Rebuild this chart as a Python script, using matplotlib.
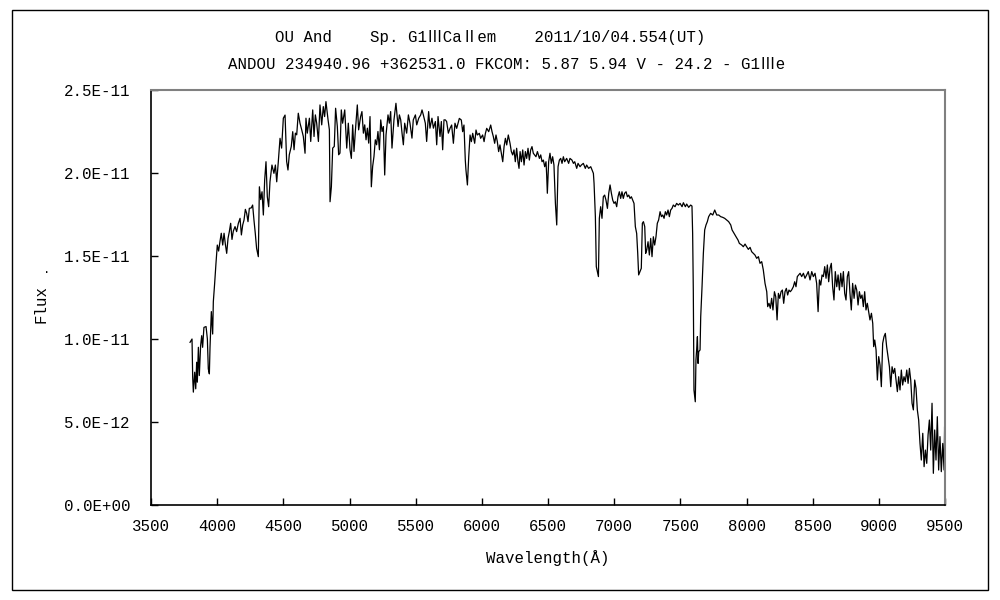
import matplotlib
matplotlib.use('Agg')
import matplotlib.pyplot as plt
from matplotlib.patches import Rectangle
from matplotlib.ticker import FuncFormatter, MultipleLocator

# the original uses a monospaced gothic font; Liberation Mono is the nearest
plt.rcParams['font.family'] = ['Liberation Mono', 'Noto Sans CJK JP']

title1 = 'OU And    Sp. G1ⅢCaⅡem    2011/10/04.554(UT)'
title2 = 'ANDOU 234940.96 +362531.0 FKCOM: 5.87 5.94 V - 24.2 - G1Ⅲe'

# wavelength (A) and flux (units of 1e-11)
wave = [
    3795, 3810, 3815, 3820, 3830, 3838, 3845, 3850, 3858, 3865, 3875, 3883, 3890, 3900, 3916, 3926,
    3933, 3941, 3946, 3956, 3966, 3971, 3981, 3991, 4001, 4011, 4021, 4031, 4042, 4052, 4062, 4072,
    4082, 4092, 4102, 4112, 4122, 4135, 4147, 4160, 4173, 4183, 4193, 4203, 4213, 4223, 4233, 4243,
    4258, 4268, 4278, 4288, 4298, 4311, 4319, 4329, 4339, 4349, 4359, 4369, 4379, 4389, 4399, 4414,
    4429, 4440, 4450, 4462, 4475, 4487, 4500, 4513, 4525, 4535, 4545, 4560, 4571, 4581, 4591, 4601,
    4613, 4626, 4639, 4651, 4664, 4671, 4681, 4697, 4707, 4722, 4732, 4742, 4752, 4765, 4777, 4790,
    4802, 4812, 4822, 4838, 4848, 4853, 4863, 4873, 4885, 4895, 4908, 4918, 4928, 4938, 4948, 4964,
    4979, 4991, 5004, 5014, 5024, 5034, 5044, 5059, 5069, 5084, 5094, 5105, 5115, 5125, 5135, 5145,
    5155, 5165, 5175, 5185, 5195, 5205, 5215, 5226, 5236, 5246, 5256, 5266, 5276, 5291, 5301, 5311,
    5321, 5336, 5351, 5367, 5377, 5387, 5397, 5407, 5417, 5432, 5445, 5457, 5472, 5482, 5498, 5508,
    5523, 5538, 5548, 5558, 5573, 5583, 5598, 5608, 5623, 5634, 5649, 5659, 5669, 5684, 5694, 5704,
    5714, 5724, 5734, 5747, 5760,
    5772, 5785, 5797, 5810, 5823, 5830, 5845, 5855, 5865, 5875, 5880, 5891, 5901, 5911, 5921, 5931,
    5946, 5956, 5966, 5981, 5991, 6006, 6017, 6027, 6037, 6052, 6067, 6077, 6087, 6097, 6107, 6117,
    6127, 6137, 6147, 6158, 6168, 6178, 6188, 6200, 6213, 6223, 6233, 6243, 6253, 6263, 6273, 6281,
    6289, 6299, 6309, 6319, 6329, 6339, 6349, 6359, 6369, 6379, 6389, 6399, 6409, 6420, 6435, 6445,
    6455, 6465, 6475, 6485, 6490, 6495, 6505, 6515, 6525, 6535, 6545, 6556, 6566, 6576, 6586, 6596,
    6606, 6616, 6626, 6641, 6656, 6666, 6681, 6692, 6702, 6717, 6727, 6742, 6752, 6767, 6782, 6792,
    6807, 6823, 6833, 6843, 6848, 6858, 6865, 6873, 6881, 6888, 6898, 6908, 6918, 6928, 6938, 6949,
    6959, 6969, 6979, 6989, 6999, 7009, 7019, 7029, 7039, 7049, 7059, 7069, 7079, 7090, 7100, 7110,
    7120, 7130, 7140, 7150, 7160, 7170, 7178, 7185, 7195, 7205, 7213, 7221, 7231, 7238, 7246, 7256,
    7266, 7276, 7286, 7296, 7306, 7316, 7326, 7336, 7347, 7357, 7367, 7377, 7387, 7397, 7407, 7417,
    7427, 7437, 7447, 7460, 7472, 7485, 7498, 7513, 7523, 7538, 7548, 7563, 7578, 7588, 7593, 7598,
    7603, 7613, 7618, 7624, 7629, 7634, 7639, 7649, 7654, 7664, 7674, 7684, 7694, 7704, 7714, 7729,
    7745, 7760, 7775, 7790, 7805, 7820, 7835, 7850, 7865, 7881, 7891, 7906, 7921, 7936, 7946,
    7964, 7976, 7989, 8001, 8014, 8027, 8039, 8052, 8064, 8077, 8090, 8102, 8115, 8127, 8140, 8153,
    8160, 8170, 8180, 8190, 8200, 8211, 8221, 8231, 8241, 8251, 8261, 8271, 8281, 8291, 8301, 8311,
    8321, 8331, 8341, 8354, 8364, 8374, 8384, 8394, 8405, 8417, 8430, 8442, 8455, 8467, 8480, 8493,
    8505, 8518, 8530, 8541, 8551, 8561, 8571, 8581, 8591, 8601, 8611, 8621, 8631, 8641, 8651, 8661,
    8671, 8682, 8692, 8702, 8712, 8722, 8732, 8742, 8752, 8762, 8772, 8782, 8792, 8802, 8813, 8823,
    8833, 8843, 8853, 8863, 8873, 8883, 8893, 8903, 8913, 8923, 8933, 8944, 8954, 8961, 8969, 8979,
    8989, 8999, 9009, 9019, 9029, 9039, 9049, 9059, 9069, 9080, 9090, 9100, 9110, 9120, 9130, 9140,
    9150, 9160, 9170, 9180, 9190, 9200, 9211, 9221, 9231, 9241, 9251, 9261, 9271, 9281, 9291, 9301,
    9311, 9321, 9332, 9342, 9352, 9362, 9372, 9382, 9392, 9402, 9412, 9422, 9432, 9442, 9452, 9462,
    9472, 9483, 9493, 9497, 9500,
]
flux = [
    0.98, 1.00, 0.77, 0.68, 0.80, 0.70, 0.86, 0.74, 0.95, 0.78, 0.96, 1.02, 0.95, 1.07, 1.075, 1.00,
    0.82, 0.79, 0.95, 1.165, 1.03, 1.225, 1.335, 1.456, 1.566, 1.53, 1.586, 1.637, 1.566, 1.637, 1.57, 1.516,
    1.606, 1.647, 1.697, 1.60, 1.65, 1.677, 1.647, 1.697, 1.727, 1.627, 1.687, 1.717, 1.781, 1.757, 1.707, 1.787,
    1.79, 1.807, 1.717, 1.637, 1.546, 1.496, 1.917, 1.84, 1.887, 1.747, 1.958, 2.068, 1.857, 1.797, 1.947, 2.048,
    1.998, 2.048, 1.947, 2.068, 2.209, 2.15, 2.33, 2.349, 2.07, 2.018, 2.11, 2.16, 2.249, 2.14, 2.24, 2.23,
    2.36, 2.30, 2.26, 2.22, 2.119, 2.33, 2.24, 2.33, 2.19, 2.38, 2.22, 2.35, 2.30, 2.19, 2.41, 2.29,
    2.40, 2.34, 2.43, 2.32, 2.26, 1.827, 1.917, 2.15, 2.16, 2.39, 2.28, 2.11, 2.12, 2.38, 2.30, 2.38,
    2.15, 2.30, 2.14, 2.088, 2.29, 2.13, 2.25, 2.41, 2.26, 2.34, 2.37, 2.24, 2.29, 2.20, 2.27, 2.18,
    2.34, 1.917, 2.04, 2.10, 2.20, 2.17, 2.25, 2.14, 2.32, 2.25, 2.28, 1.988, 2.23, 2.35, 2.30, 2.37,
    2.15, 2.32, 2.42, 2.28, 2.35, 2.32, 2.24, 2.17, 2.30, 2.24, 2.35, 2.30, 2.21, 2.32, 2.35, 2.29,
    2.33, 2.35, 2.38, 2.35, 2.30, 2.19, 2.37, 2.27, 2.33, 2.27, 2.31, 2.17, 2.34, 2.22, 2.31, 2.14,
    2.32, 2.32, 2.31, 2.24, 2.27,
    2.289, 2.179, 2.30, 2.269, 2.309, 2.329, 2.319, 2.249, 2.289, 2.078, 2.018, 1.928, 2.098, 2.229, 2.189, 2.239,
    2.179, 2.259, 2.229, 2.239, 2.209, 2.229, 2.189, 2.239, 2.269, 2.249, 2.289, 2.249, 2.219, 2.179, 2.229, 2.189,
    2.129, 2.169, 2.119, 2.068, 2.159, 2.209, 2.169, 2.229, 2.179, 2.129, 2.109, 2.139, 2.068, 2.149, 2.068, 2.028,
    2.129, 2.068, 2.139, 2.048, 2.129, 2.088, 2.149, 2.078, 2.139, 2.159, 2.119, 2.109, 2.098, 2.129, 2.088, 2.109,
    2.068, 2.078, 2.038, 2.068, 1.988, 1.878, 2.068, 2.119, 2.058, 2.098, 2.048, 1.817, 1.687, 2.038, 2.078, 2.088,
    2.058, 2.098, 2.068, 2.088, 2.058, 2.088, 2.078, 2.058, 2.068, 2.028, 2.058, 2.038, 2.048, 2.058, 2.028, 2.048,
    2.028, 2.038, 2.018, 1.998, 1.938, 1.737, 1.436, 1.406, 1.376, 1.727, 1.797, 1.727, 1.857, 1.867, 1.837, 1.787,
    1.878, 1.928, 1.878, 1.837, 1.817, 1.827, 1.797, 1.857, 1.887, 1.847, 1.887, 1.847, 1.878, 1.887, 1.857, 1.867,
    1.847, 1.857, 1.837, 1.817, 1.677, 1.636, 1.516, 1.386, 1.406, 1.426, 1.697, 1.707, 1.677, 1.516, 1.536, 1.586,
    1.506, 1.606, 1.496, 1.616, 1.566, 1.616, 1.697, 1.717, 1.767, 1.737, 1.747, 1.727, 1.767, 1.747, 1.777, 1.737,
    1.777, 1.787, 1.807, 1.797, 1.817, 1.807, 1.817, 1.797, 1.821, 1.797, 1.813, 1.793, 1.807, 1.801, 1.636, 1.295,
    0.693, 0.622, 0.873, 0.944, 1.014, 0.853, 0.924, 0.934, 1.134, 1.315, 1.516, 1.657, 1.687, 1.707, 1.737, 1.757,
    1.747, 1.777, 1.747, 1.747, 1.737, 1.733, 1.727, 1.717, 1.707, 1.687, 1.657, 1.636, 1.616, 1.596, 1.576,
    1.566, 1.556, 1.572, 1.556, 1.540, 1.552, 1.526, 1.516, 1.506, 1.486, 1.496, 1.456, 1.466, 1.416, 1.335, 1.285,
    1.195, 1.215, 1.185, 1.245, 1.175, 1.285, 1.255, 1.115, 1.275, 1.245, 1.285, 1.295, 1.215, 1.285, 1.305, 1.265,
    1.295, 1.285, 1.295, 1.315, 1.345, 1.315, 1.376, 1.386, 1.396, 1.376, 1.396, 1.366, 1.386, 1.406, 1.356, 1.406,
    1.376, 1.396, 1.335, 1.165, 1.356, 1.325, 1.386, 1.376, 1.436, 1.366, 1.446, 1.345, 1.426, 1.456, 1.315, 1.235,
    1.406, 1.315, 1.386, 1.295, 1.396, 1.315, 1.406, 1.275, 1.235, 1.376, 1.406, 1.275, 1.175, 1.335, 1.245, 1.325,
    1.295, 1.205, 1.285, 1.245, 1.265, 1.195, 1.285, 1.175, 1.215, 1.165, 1.115, 1.155, 1.094, 0.954, 0.994, 0.934,
    0.753, 0.894, 0.843, 0.713, 0.974, 1.014, 1.034, 0.954, 0.894, 0.833, 0.713, 0.833, 0.793, 0.823, 0.753, 0.683,
    0.773, 0.693, 0.813, 0.723, 0.773, 0.743, 0.813, 0.733, 0.823, 0.753, 0.613, 0.573, 0.753, 0.703, 0.573, 0.512,
    0.371, 0.271, 0.432, 0.231, 0.331, 0.251, 0.422, 0.512, 0.331, 0.613, 0.191, 0.452, 0.271, 0.532, 0.211, 0.412,
    0.201, 0.371, 0.211, 0.472, 0.13,
]
scale = 1e-11

fig = plt.figure(figsize=(10, 6), dpi=100)
ax = fig.add_axes([0.151, 0.1583, 0.794, 0.6917])

ax.plot(wave, [f * scale for f in flux], color='black', lw=0.9)

ax.set_xlim(3500, 9500)
ax.set_ylim(0, 2.5e-11)
ax.xaxis.set_major_locator(MultipleLocator(500))
ax.yaxis.set_major_locator(MultipleLocator(5e-12))
ax.yaxis.set_major_formatter(FuncFormatter(lambda v, p: f'{v:.1E}'))
ax.yaxis.get_offset_text().set_visible(False)

ax.tick_params(axis='both', direction='in', length=5, width=1, labelsize=11.3, colors='black')
ax.tick_params(axis='y', pad=15)
ax.tick_params(axis='x', pad=10)

for s in ['top', 'right']:
    ax.spines[s].set_color('#808080')
    ax.spines[s].set_linewidth(1.5)
for s in ['left', 'bottom']:
    ax.spines[s].set_color('black')
    ax.spines[s].set_linewidth(1.2)

fig.text(0.548, 0.07, 'Wavelength(Å)', ha='center', va='center', fontsize=11.3)
fig.text(0.041, 0.493, 'Flux', ha='center', va='center', rotation=90, fontsize=11.3)
fig.text(0.047, 0.55, '.', ha='center', va='center', fontsize=9)

fig.text(0.490, 0.938, title1, ha='center', va='center', fontsize=11.3)
fig.text(0.507, 0.893, title2, ha='center', va='center', fontsize=11.3)

# outer frame
fig.patches.append(Rectangle((0.012, 0.017), 0.976, 0.966, transform=fig.transFigure,
                             fill=False, edgecolor='black', lw=1.0))

fig.savefig('out.png', dpi=100)
